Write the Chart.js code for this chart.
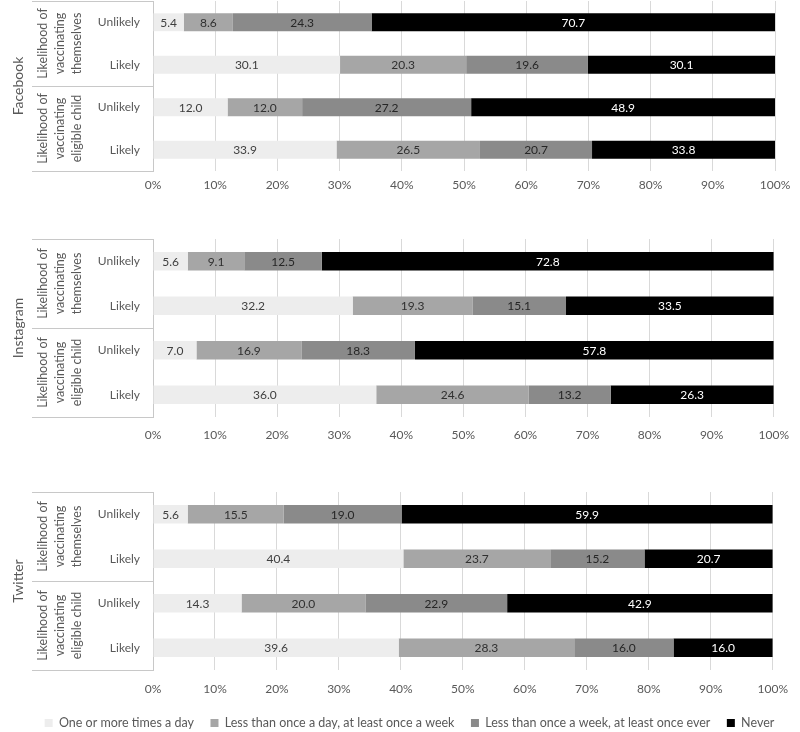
<!DOCTYPE html>
<html>
<head>
<meta charset="utf-8">
<script src="https://cdn.jsdelivr.net/npm/chart.js@4.4.1/dist/chart.umd.min.js"></script>
<style>
  html, body { margin: 0; padding: 0; background: #ffffff; }
  body { width: 800px; height: 732px; overflow: hidden; position: relative; }
  .panel { position: absolute; left: 0; width: 800px; }
</style>
</head>
<body>
<div class="panel" style="top:0px;height:200px"><canvas id="c1" width="800" height="200"></canvas></div>
<div class="panel" style="top:230px;height:220px"><canvas id="c2" width="800" height="220"></canvas></div>
<div class="panel" style="top:480px;height:260px"><canvas id="c3" width="800" height="260"></canvas></div>
<script>
// ---------------- DATA ----------------
const rowLabels = ['Unlikely', 'Likely', 'Unlikely', 'Likely'];
const groupLabels = [
  ['Likelihood of', 'vaccinating', 'themselves'],
  ['Likelihood of', 'vaccinating', 'eligible child']
];
const platforms = ['Facebook', 'Instagram', 'Twitter'];
const seriesNames = [
  'One or more times a day',
  'Less than once a day, at least once a week',
  'Less than once a week, at least once ever',
  'Never'
];
const xTickLabels = ['0%', '10%', '20%', '30%', '40%', '50%', '60%', '70%', '80%', '90%', '100%'];

// rows: Unlikely (themselves), Likely (themselves), Unlikely (child), Likely (child)
const facebookDaily  = [5.4, 30.1, 12.0, 33.9];
const facebookWeekly = [8.6, 20.3, 12.0, 26.5];
const facebookEver   = [24.3, 19.6, 27.2, 20.7];
const facebookNever  = [70.7, 30.1, 48.9, 33.8];

const instagramDaily  = [5.6, 32.2, 7.0, 36.0];
const instagramWeekly = [9.1, 19.3, 16.9, 24.6];
const instagramEver   = [12.5, 15.1, 18.3, 13.2];
const instagramNever  = [72.8, 33.5, 57.8, 26.3];

const twitterDaily  = [5.6, 40.4, 14.3, 39.6];
const twitterWeekly = [15.5, 23.7, 20.0, 28.3];
const twitterEver   = [19.0, 15.2, 22.9, 16.0];
const twitterNever  = [59.9, 20.7, 42.9, 16.0];

// ---------------- STYLE ----------------
const seriesColors = ['#ededed', '#a6a6a6', '#8a8a8a', '#000000'];
const labelColors  = ['#404040', '#303030', '#262626', '#ffffff'];
const FONT = 'Lato, "Open Sans", sans-serif';
Chart.defaults.font.family = FONT;
Chart.defaults.color = '#595959';

const barLabels = {
  id: 'barLabels',
  afterDatasetsDraw(chart) {
    const ctx = chart.ctx;
    ctx.save();
    ctx.font = '12px ' + FONT;
    ctx.textAlign = 'center';
    ctx.textBaseline = 'middle';
    chart.data.datasets.forEach((ds, di) => {
      const meta = chart.getDatasetMeta(di);
      meta.data.forEach((el, i) => {
        const p = el.getCenterPoint();
        ctx.fillStyle = ds.labelColor;
        ctx.fillText(ds.rawValues[i].toFixed(1), p.x, p.y + 0.5);
      });
    });
    ctx.restore();
  }
};

const sideLabels = {
  id: 'sideLabels',
  afterDraw(chart, args, opts) {
    const ctx = chart.ctx;
    const y = chart.scales.y;
    const axisX = chart.chartArea.left;
    const top = y.top, bottom = y.bottom;
    const mid = (y.getPixelForValue(1) + y.getPixelForValue(2)) / 2;
    ctx.save();
    ctx.strokeStyle = '#c8c8c8';
    ctx.lineWidth = 1;
    [top, mid, bottom].forEach(py => {
      const yy = Math.round(py) + 0.5;
      ctx.beginPath();
      ctx.moveTo(32, yy);
      ctx.lineTo(axisX, yy);
      ctx.stroke();
    });
    ctx.fillStyle = '#595959';
    ctx.textAlign = 'center';
    ctx.textBaseline = 'middle';
    // platform title
    ctx.save();
    ctx.font = '14px ' + FONT;
    ctx.translate(18, (top + bottom) / 2);
    ctx.rotate(-Math.PI / 2);
    ctx.fillText(opts.title, 0, 0);
    ctx.restore();
    // group labels
    ctx.font = '12.5px ' + FONT;
    groupLabels.forEach((lines, g) => {
      const cy = (y.getPixelForValue(2 * g) + y.getPixelForValue(2 * g + 1)) / 2;
      lines.forEach((txt, li) => {
        ctx.save();
        ctx.translate(43 + li * 17, cy);
        ctx.rotate(-Math.PI / 2);
        ctx.fillText(txt, 0, 0);
        ctx.restore();
      });
    });
    ctx.restore();
  }
};

function makeDatasets(values) {
  const totals = rowLabels.map((_, i) => values.reduce((s, arr) => s + arr[i], 0));
  return values.map((arr, si) => ({
    label: seriesNames[si],
    data: arr.map((v, i) => v / totals[i] * 100),
    rawValues: arr,
    backgroundColor: seriesColors[si],
    borderColor: seriesColors[si],
    borderWidth: 0,
    labelColor: labelColors[si],
    categoryPercentage: 1,
    barPercentage: 0.42
  }));
}

function makeChart(id, title, values, cfg) {
  return new Chart(document.getElementById(id), {
    type: 'bar',
    data: { labels: rowLabels, datasets: makeDatasets(values) },
    options: {
      indexAxis: 'y',
      responsive: false,
      animation: false,
      layout: { padding: { left: 25, right: 6, top: cfg.padTop, bottom: cfg.padBottom } },
      scales: {
        x: {
          stacked: true,
          min: 0, max: 100,
          ticks: {
            stepSize: 10,
            padding: cfg.tickPad,
            color: '#595959',
            font: { size: 12 },
            callback: (v, i) => xTickLabels[i]
          },
          grid: { color: '#d9d9d9', drawTicks: false },
          border: { display: false },
          afterFit: s => { s.height = cfg.xHeight; }
        },
        y: {
          stacked: true,
          ticks: { padding: 13, color: '#595959', font: { size: 12 } },
          grid: { display: false, drawTicks: false },
          border: { display: true, color: '#c8c8c8', width: 1 },
          afterFit: s => { s.width = 128; s.paddingTop = 0; s.paddingBottom = 0; }
        },
        yRight: {
          type: 'category',
          position: 'right',
          ticks: { display: false },
          grid: { display: false, drawTicks: false },
          border: { display: false },
          afterFit: s => { s.width = 19; s.paddingTop = 0; s.paddingBottom = 0; }
        }
      },
      plugins: {
        legend: cfg.legend ? {
          display: true,
          position: 'bottom',
          labels: {
            boxWidth: 8, boxHeight: 8, padding: 16.5,
            color: '#595959',
            font: { size: 12.5 }
          }
        } : { display: false },
        tooltip: { enabled: false },
        sideLabels: { title: title }
      }
    },
    plugins: [barLabels, sideLabels]
  });
}

makeChart('c1', platforms[0], [facebookDaily, facebookWeekly, facebookEver, facebookNever],
  { padTop: 1, padBottom: 0, xHeight: 29, tickPad: 7, legend: false });
makeChart('c2', platforms[1], [instagramDaily, instagramWeekly, instagramEver, instagramNever],
  { padTop: 9, padBottom: 0, xHeight: 33, tickPad: 11, legend: false });
makeChart('c3', platforms[2], [twitterDaily, twitterWeekly, twitterEver, twitterNever],
  { padTop: 12, padBottom: 0.75, xHeight: 30.25, tickPad: 12, legend: true });
</script>
</body>
</html>
